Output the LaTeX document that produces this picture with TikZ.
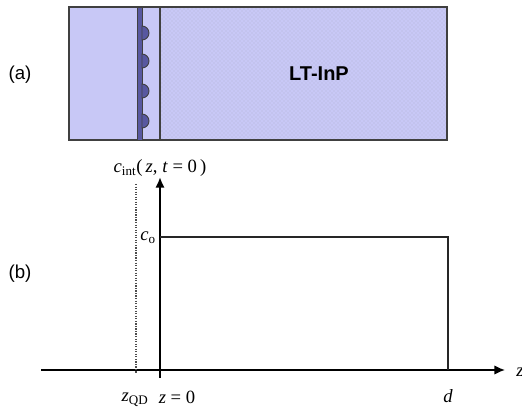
\documentclass[tikz,border=0pt]{standalone}
\usepackage{xcolor}
\usepackage{amsmath}
\usepackage{fontspec}
\setsansfont{Liberation Sans}
\setmainfont{Liberation Serif}
\usetikzlibrary{arrows,arrows.meta,calc,patterns,positioning}
\colorlet{colorEdge}{black!75}
\definecolor{colorGaInP}{RGB}{200,200,246}
\definecolor{colorLT}{RGB}{200,200,246}
\definecolor{colorQD}{RGB}{88,88,160}
\tikzset{
   every path/.style={>=stealth},
   layer/.style={draw=colorEdge,line width=0.9pt,fill=colorGaInP},
   qd/.style={draw=colorEdge,line width=0.7pt,fill=colorQD},
   axis/.style={-{Latex[length=8pt,width=7pt]},color=black},
   profile/.style={color=black!85,line width=0.9pt},
   panel/.style={font=\sffamily\fontsize{14}{16}\selectfont},
   lab/.style={font=\fontsize{14}{16}\selectfont,inner sep=0pt},
}

\begin{document}
\begin{tikzpicture}[x=0.75pt,y=-0.75pt]

\useasboundingbox (0,0) rectangle (522,413);

% =========================================================
% (a)
% =========================================================

\node[panel] (labelA) at (20,75) {(a)};

\draw[layer] (69,7) rectangle (160,140);
\fill[colorLT] (160,7) rectangle (447,140);
\fill[pattern=crosshatch dots,pattern color=colorQD!45] (160,7) rectangle (447,140);
\draw[layer,fill=none] (160,7) rectangle (447,140);
\draw[qd] (137,7) rectangle (142,140);

% dots
\foreach \y in {33,61,91,121}{
   \draw[qd] (142,\y-7) arc[start angle=90,end angle=-90,radius=5.25pt] -- cycle;
}

\node[font=\sffamily\bfseries\fontsize{15}{17}\selectfont] (ltinp) at (319,74) {LT-InP};


% =========================================================
% (b)
% =========================================================

\node[panel] (labelB) at (20,274) {(b)};

\coordinate (origin) at (160,370);
\coordinate (axisLeft) at (41,370);
\coordinate (axisRight) at (505,370);
\coordinate (axisBottom) at (160,378);
\coordinate (axisTop) at (160,177);
\coordinate (qdTop) at (136,184);
\coordinate (qdBottom) at (136,373);
\coordinate (stepLeft) at (160,237);
\coordinate (stepRight) at (448,237);
\coordinate (stepBottom) at (448,370);

\draw[axis,line width=1pt] (axisLeft) -- (axisRight);
\draw[axis,line width=2pt] (axisBottom) -- (axisTop);
\draw[black!70,densely dotted,line width=0.9pt] (qdTop) -- (qdBottom);
\draw[profile] (stepLeft) -- (stepRight) -- (stepBottom);


% =========================================================
% labels
% =========================================================

\node[lab] (cint) at (160,168) {\textit{c}$_{\text{int}}$(\,\textit{z}, \textit{t} = 0\,)};
\node[lab] (czero) at (148,238) {\textit{c}$_{\text{o}}$};
\node[lab] (zqd) at (135,400) {\textit{z}$_{\text{QD}}$};
\node[lab] (zzero) at (177,397) {\textit{z} = 0};
\node[lab] (dval) at (448,396) {\textit{d}};
\node[lab] (zval) at (520,372) {\textit{z}};

\end{tikzpicture}
\end{document}
